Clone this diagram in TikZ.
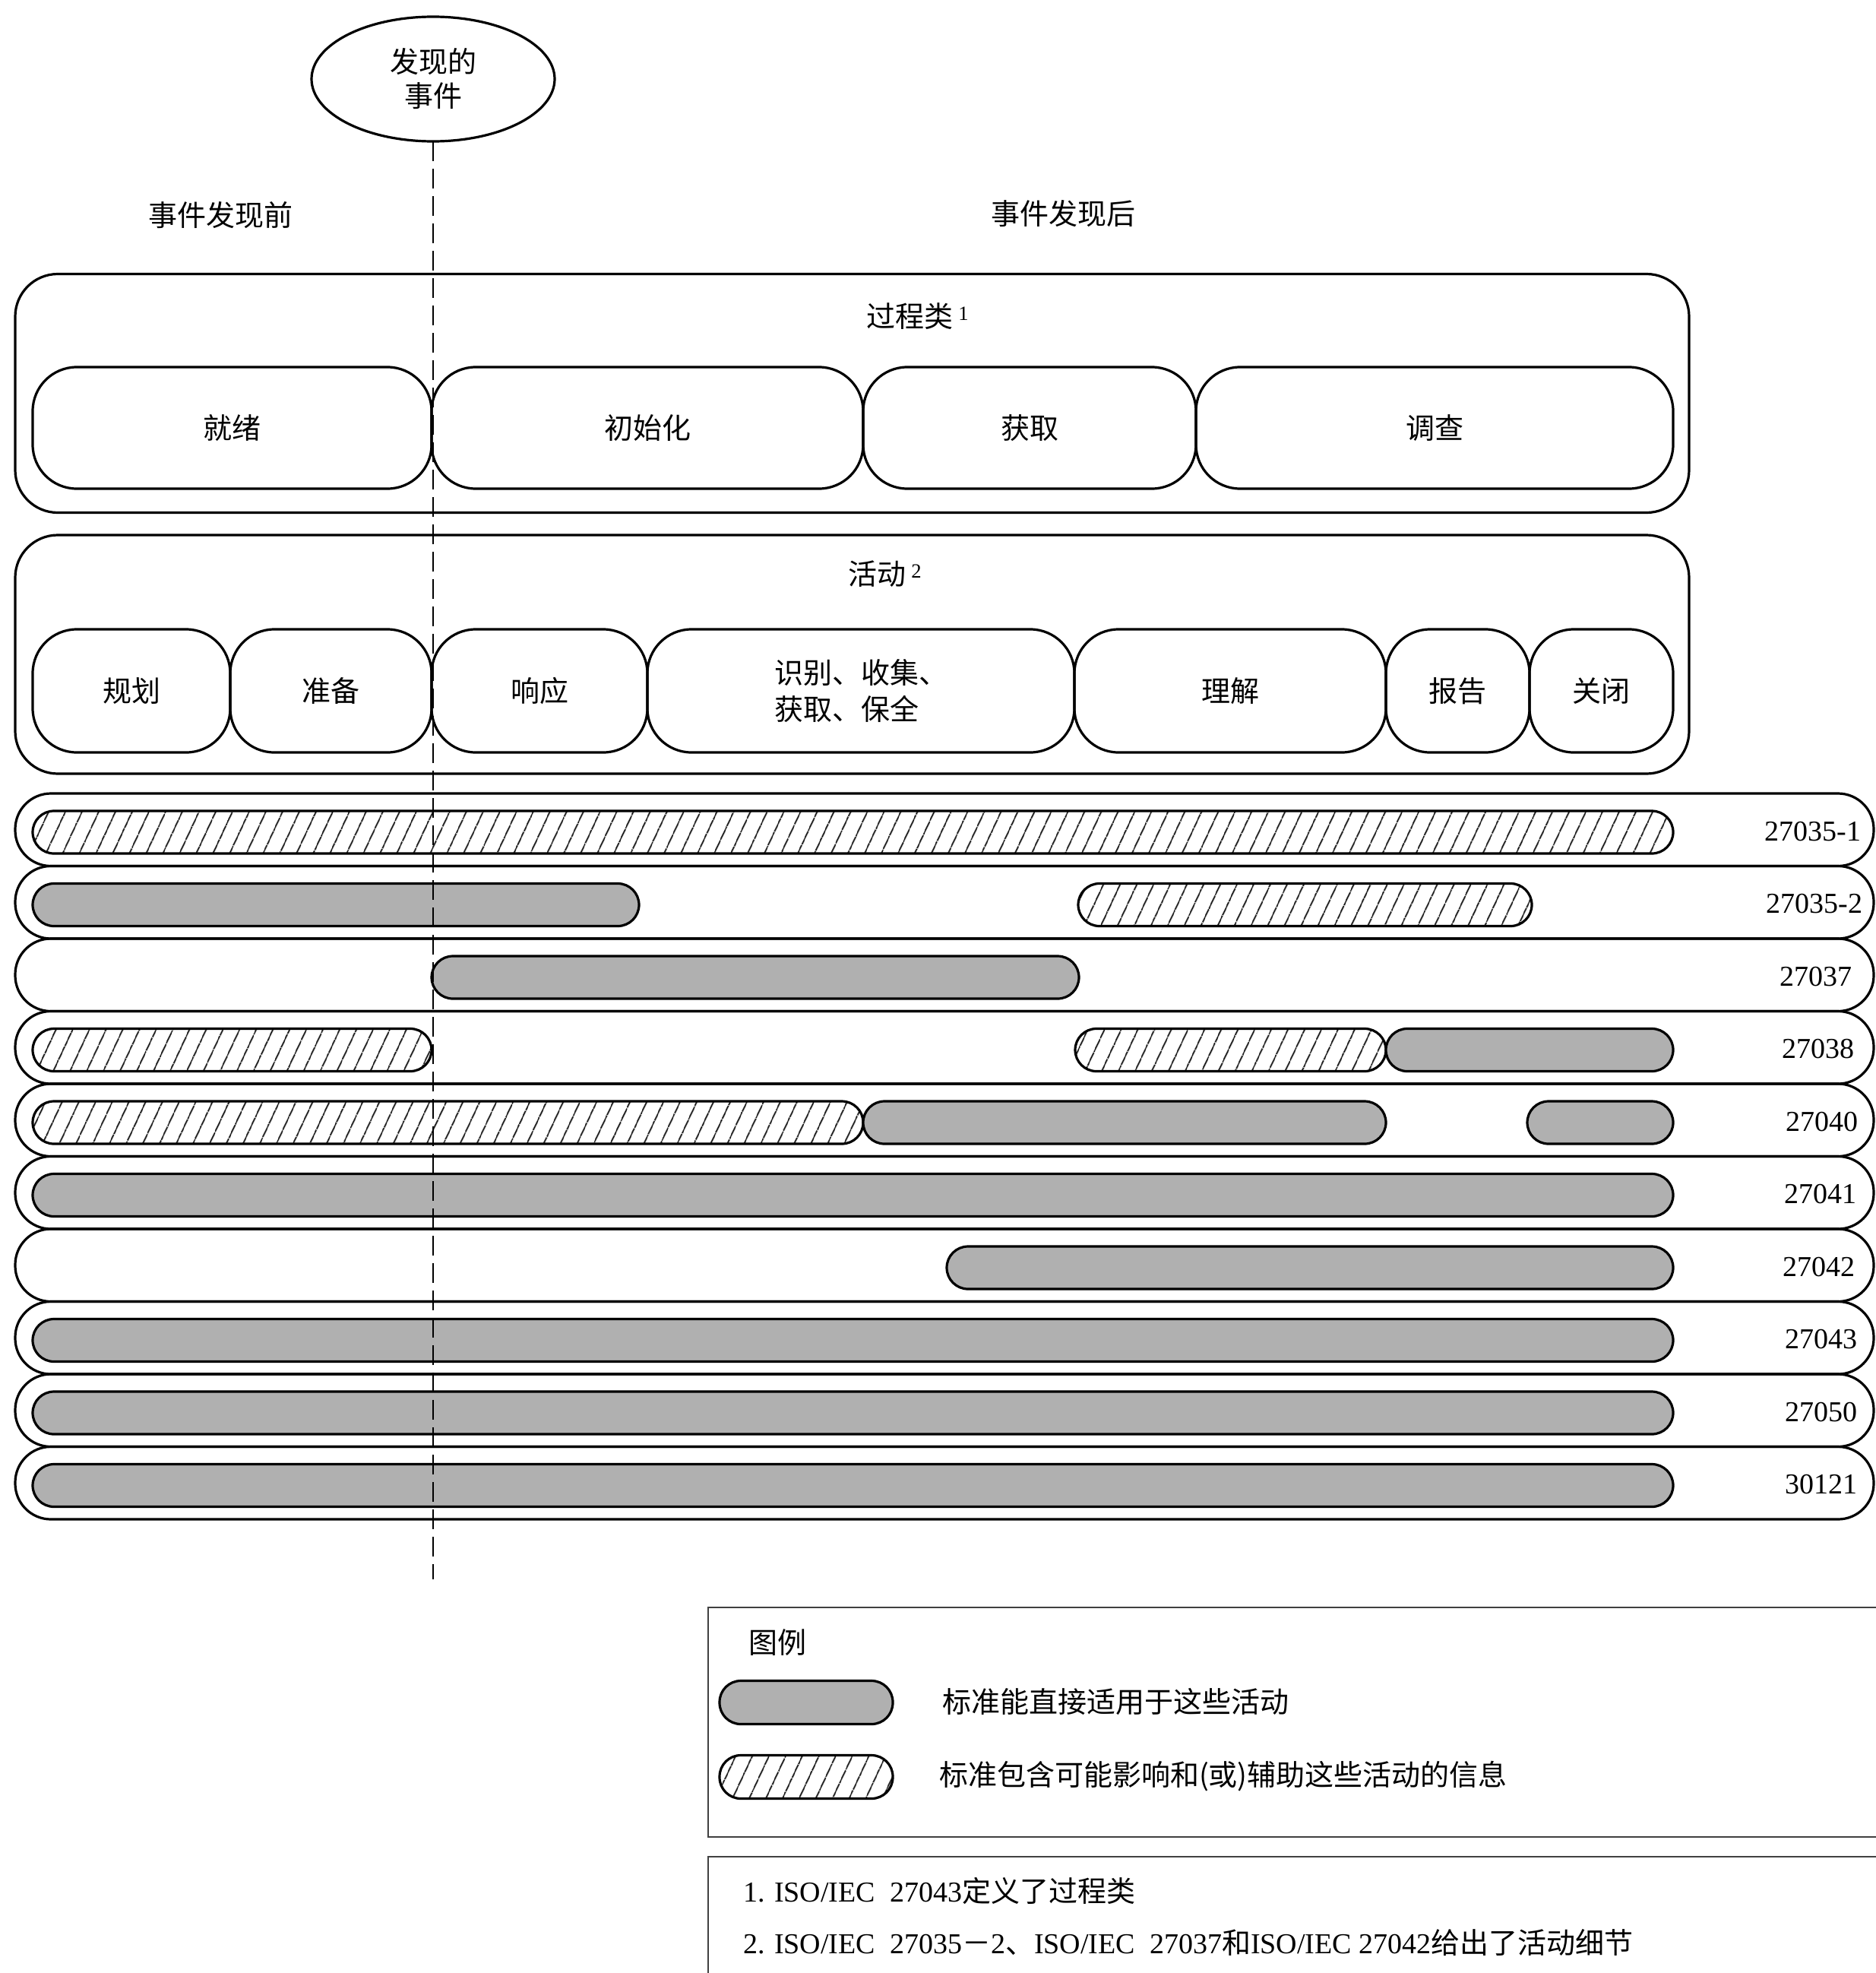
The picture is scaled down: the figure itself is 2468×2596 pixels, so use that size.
\documentclass[tikz,border=0pt]{standalone}
\usepackage{fontspec}
\setmainfont{Liberation Serif}
\newfontfamily\cjk{Noto Sans CJK SC}
\usetikzlibrary{positioning, shapes.geometric, patterns.meta}
\definecolor{bargray}{HTML}{B0B0B0}
\definecolor{legline}{HTML}{404040}
\newcommand{\diagfont}{\fontsize{38}{48}\selectfont}

\begin{document}
\begin{tikzpicture}[
  x=1pt, y=-1pt,
  every node/.style={font=\cjk\diagfont, inner sep=0pt, outer sep=0pt},
  evtellipse/.style={ellipse, draw, line width=3.2pt, minimum width=320pt, minimum height=164pt, align=center, font=\cjk\fontsize{38}{45}\selectfont},
  outerbox/.style={rectangle, draw, line width=3.2pt, rounded corners=56pt, minimum width=2203pt, minimum height=314pt},
  procbox/.style={rectangle, draw, line width=3.2pt, rounded corners=58pt, minimum height=160pt, align=center},
  actbox/.style={rectangle, draw, line width=3.2pt, rounded corners=58pt, minimum height=162pt, align=center},
  rowpill/.style={rectangle, draw, line width=3.2pt, rounded corners=47pt, minimum width=2446pt, minimum height=95.5pt},
  graybar/.style={rectangle, draw, fill=bargray, line width=3.2pt, rounded corners=28pt, minimum height=56pt},
  hatchbar/.style={rectangle, draw, line width=3.2pt, rounded corners=28pt, minimum height=56pt, pattern={Lines[angle=65, distance=19.5pt, line width=1.8pt]}},
  stdlabel/.style={font=\rmfamily\diagfont},
  legframe/.style={rectangle, draw=legline, line width=2.6pt, minimum width=1590pt},
  evtline/.style={dash pattern=on 26pt off 10pt, line width=2pt},
]
\useasboundingbox (0,0) rectangle (2468,2596);

% discovered event and time split
\node[evtellipse] (evt) at (570,104) {发现的\\事件};
\node (before) at (290,283) {事件发现前};
\node (after) at (1399,281) {事件发现后};

% process classes
\node[outerbox] (procframe) at (1121.5,517.5) {};
\node (proctitle) at (1208,416) {过程类\,\textsuperscript{\rmfamily 1}};
\node[procbox, minimum width=525pt] (ready) at (305.5,563) {就绪};
\node[procbox, minimum width=568pt] (init) at (852,563) {初始化};
\node[procbox, minimum width=438pt] (acq) at (1355,563) {获取};
\node[procbox, minimum width=628pt] (inv) at (1888,563) {调查};

% activities
\node[outerbox] (actframe) at (1121.5,861) {};
\node (acttitle) at (1165,755) {活动\,\textsuperscript{\rmfamily 2}};
\node[actbox, minimum width=260pt] (plan) at (173,909) {规划};
\node[actbox, minimum width=265pt] (prep) at (435.5,909) {准备};
\node[actbox, minimum width=284pt] (resp) at (710,909) {响应};
\node[actbox, minimum width=562pt, align=left] (ident) at (1133,909) {识别、收集、\\获取、保全};
\node[actbox, minimum width=410pt] (underst) at (1619,909) {理解};
\node[actbox, minimum width=189pt] (report) at (1918.5,909) {报告};
\node[actbox, minimum width=189pt] (closing) at (2107.5,909) {关闭};

% standards rows
\node[rowpill] (r1) at (1243,1091.75) {};
\node[rowpill] (r2) at (1243,1187.25) {};
\node[rowpill] (r3) at (1243,1282.75) {};
\node[rowpill] (r4) at (1243,1378.25) {};
\node[rowpill] (r5) at (1243,1473.75) {};
\node[rowpill] (r6) at (1243,1569.25) {};
\node[rowpill] (r7) at (1243,1664.75) {};
\node[rowpill] (r8) at (1243,1760.25) {};
\node[rowpill] (r9) at (1243,1855.75) {};
\node[rowpill] (r10) at (1243,1951.25) {};

\node[hatchbar, minimum width=2159pt] (b1) at (1122.5,1095) {};
\node[graybar, minimum width=798pt] (b2a) at (442,1190.5) {};
\node[hatchbar, minimum width=597pt] (b2b) at (1717.5,1190.5) {};
\node[graybar, minimum width=852pt] (b3) at (994,1286) {};
\node[hatchbar, minimum width=525pt] (b4a) at (305.5,1381.5) {};
\node[hatchbar, minimum width=409pt] (b4b) at (1619.5,1381.5) {};
\node[graybar, minimum width=378pt] (b4c) at (2013,1381.5) {};
\node[hatchbar, minimum width=1093pt] (b5a) at (589.5,1477) {};
\node[graybar, minimum width=688pt] (b5b) at (1480,1477) {};
\node[graybar, minimum width=192pt] (b5c) at (2106,1477) {};
\node[graybar, minimum width=2159pt] (b6) at (1122.5,1572.5) {};
\node[graybar, minimum width=956pt] (b7) at (1724,1668) {};
\node[graybar, minimum width=2159pt] (b8) at (1122.5,1763.5) {};
\node[graybar, minimum width=2159pt] (b9) at (1122.5,1859) {};
\node[graybar, minimum width=2159pt] (b10) at (1122.5,1954.5) {};

\node[stdlabel] (l1) at (2386,1094) {27035-1};
\node[stdlabel] (l2) at (2388,1189.5) {27035-2};
\node[stdlabel] (l3) at (2390,1285) {27037};
\node[stdlabel] (l4) at (2393,1380.5) {27038};
\node[stdlabel] (l5) at (2398,1476) {27040};
\node[stdlabel] (l6) at (2396,1571.5) {27041};
\node[stdlabel] (l7) at (2394,1667) {27042};
\node[stdlabel] (l8) at (2397,1762.5) {27043};
\node[stdlabel] (l9) at (2397,1858) {27050};
\node[stdlabel] (l10) at (2397,1953.5) {30121};

% event line
\coordinate (evtend) at (570,2078);
\draw[evtline] (evt.south) -- (evtend);

% legend
\node[legframe, minimum height=302pt] (legbox) at (1727,2266) {};
\node (legtitle) at (1023,2161) {图例};
\node[graybar, minimum width=228pt, minimum height=57pt] (leggray) at (1061,2240) {};
\node[hatchbar, minimum width=228pt, minimum height=57pt] (leghatch) at (1061,2338) {};
\node[anchor=west] (leggraytxt) at (1240,2239) {标准能直接适用于这些活动};
\node[anchor=west] (leghatchtxt) at (1236,2337) {标准包含可能影响和(或)辅助这些活动的信息};

% notes
\node[legframe, minimum height=260pt] (notebox) at (1727,2573) {};
\node[anchor=west, font=\rmfamily\diagfont] (note1) at (978,2488) {1. ISO/IEC\ \ 27043{\cjk 定义了过程类}};
\node[anchor=west, font=\rmfamily\diagfont] (note2) at (978,2556) {2. ISO/IEC\ \ 27035{\cjk －}2{\cjk 、}ISO/IEC\ \ 27037{\cjk 和}ISO/IEC 27042{\cjk 给出了活动细节}};

\end{tikzpicture}
\end{document}
